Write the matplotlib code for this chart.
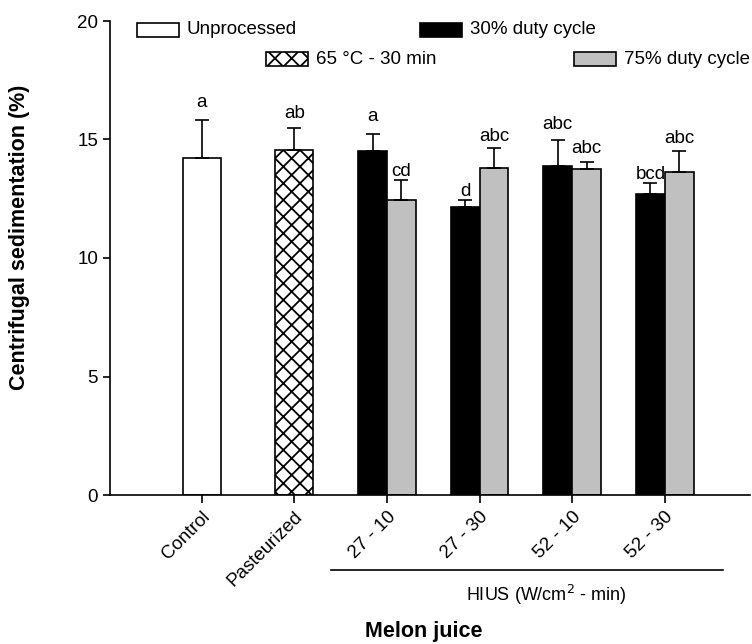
import numpy as np
import matplotlib.pyplot as plt
from matplotlib.patches import Rectangle

plt.rcParams['font.family'] = ['Liberation Sans', 'DejaVu Sans']
plt.rcParams['hatch.linewidth'] = 1.3

# Data (centrifugal sedimentation, %)
single_labels = ['Control', 'Pasteurized']
single_vals = [14.2, 14.57]
single_err = [1.62, 0.90]
single_letters = ['a', 'ab']

hius_labels = ['27 - 10', '27 - 30', '52 - 10', '52 - 30']
duty30_vals = [14.51, 12.15, 13.88, 12.71]
duty30_err = [0.72, 0.28, 1.11, 0.44]
duty30_letters = ['a', 'd', 'abc', 'bcd']
duty75_vals = [12.43, 13.78, 13.75, 13.64]
duty75_err = [0.85, 0.86, 0.31, 0.87]
duty75_letters = ['cd', 'abc', 'abc', 'abc']

# gap (pixels) between error cap and letter baseline
single_gap = [13, 10]
duty30_gap = [13, 4, 11, 4]
duty75_gap = [4, 7, 9, 8]

W, H = 752, 644
fig = plt.figure(figsize=(W / 100, H / 100), dpi=100)
ax = fig.add_axes([110 / W, 1 - 495 / H, 640 / W, 474 / H])

x_single = np.arange(len(single_labels))
x_hius = np.arange(len(hius_labels)) + len(single_labels)
bw1 = 0.41
bw2 = 0.31
gray = '#c0c0c0'
ekw = dict(fmt='none', ecolor='black', elinewidth=1.2, capsize=5, capthick=1.2)

ax.bar(x_single[0], single_vals[0], bw1, color='white', edgecolor='black', linewidth=1.2, zorder=2)
ax.bar(x_single[1], single_vals[1], bw1, color='white', edgecolor='black', linewidth=1.2,
       hatch='xx', zorder=2)
ax.errorbar(x_single, single_vals, yerr=[np.zeros(2), single_err], zorder=3, **ekw)

xb = x_hius - bw2 / 2
xg = x_hius + bw2 / 2
ax.bar(xb, duty30_vals, bw2, color='black', edgecolor='black', linewidth=1.2, zorder=2)
ax.bar(xg, duty75_vals, bw2, color=gray, edgecolor='black', linewidth=1.2, zorder=2)
ax.errorbar(xb, duty30_vals, yerr=[np.zeros(4), duty30_err], zorder=3, **ekw)
ax.errorbar(xg, duty75_vals, yerr=[np.zeros(4), duty75_err], zorder=3, **ekw)

def put_letters(xs, vals, errs, letters, gaps):
    for x, v, e, t, g in zip(xs, vals, errs, letters, gaps):
        ax.annotate(t, (x, v + e), xytext=(0, g * 0.72), textcoords='offset points',
                    ha='center', va='baseline', fontsize=13.5)

put_letters(x_single, single_vals, single_err, single_letters, single_gap)
put_letters(xb, duty30_vals, duty30_err, duty30_letters, duty30_gap)
put_letters(xg, duty75_vals, duty75_err, duty75_letters, duty75_gap)

ax.set_xlim(-0.99, 5.92)
ax.set_ylim(0, 20)
ax.set_yticks([0, 5, 10, 15, 20])
ax.set_xticks(np.concatenate([x_single, x_hius]))
ax.set_xticklabels(single_labels + hius_labels, rotation=45, ha='right',
                   rotation_mode='anchor', fontsize=13.5)
ax.tick_params(axis='y', labelsize=13.5, length=5, width=1.2, direction='out')
ax.tick_params(axis='x', length=5.5, width=1.2, direction='out', pad=4)
for s in ['top', 'right']:
    ax.spines[s].set_visible(False)
for s in ['left', 'bottom']:
    ax.spines[s].set_linewidth(1.2)

ax.set_ylabel('Centrifugal sedimentation (%)', fontsize=15.5, fontweight='bold')
ax.yaxis.set_label_coords(-80 / 640, (495 - 237) / 474)

# HIUS bracket and labels below the axis
fig.add_artist(plt.Line2D([331 / W, 723 / W], [1 - 570 / H] * 2, color='black', lw=1.2))
fig.text(546 / W, 1 - 595 / H, 'HIUS (W/cm$^2$ - min)', ha='center', va='center', fontsize=13)
fig.text(424 / W, 1 - 632 / H, 'Melon juice', ha='center', va='center', fontsize=15.5,
         fontweight='bold')

# legend drawn by hand to keep the staggered layout
legend_items = [
    (137, 30, dict(facecolor='white'), 'Unprocessed'),
    (420, 30, dict(facecolor='black'), '30% duty cycle'),
    (266, 59, dict(facecolor='white', hatch='xx'), '65 °C - 30 min'),
    (574, 59, dict(facecolor=gray), '75% duty cycle'),
]
for px, py, kw, label in legend_items:
    r = Rectangle((px / W, 1 - (py + 6.5) / H), 42 / W, 13 / H, transform=fig.transFigure,
                  edgecolor='black', linewidth=1.2, **kw)
    fig.add_artist(r)
    fig.text((px + 50) / W, 1 - py / H, label, ha='left', va='center', fontsize=13.5)

fig.savefig('out.png', dpi=100)
